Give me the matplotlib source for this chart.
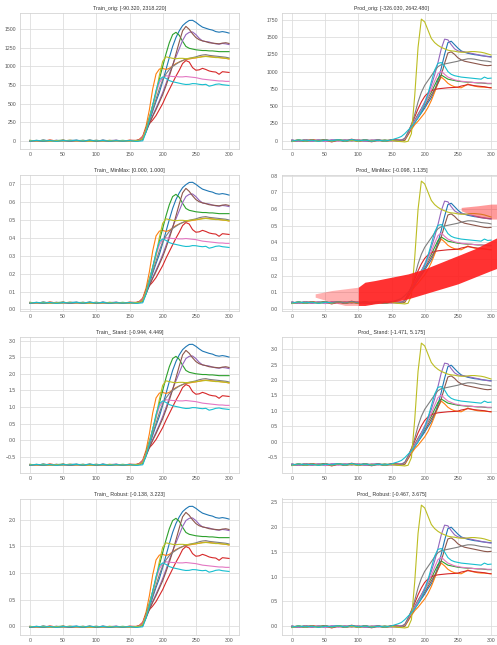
import numpy as np
import matplotlib
matplotlib.use("Agg")
import matplotlib.pyplot as plt
from matplotlib.ticker import MultipleLocator

# ---------------- data ----------------
t = [0, 10, 20, 30, 40, 50, 60, 70, 80, 90, 100, 110, 120, 130, 140, 150, 160,
     165, 170, 175, 180, 185, 190, 195, 200, 205, 210, 215, 220, 225, 230, 235,
     240, 245, 250, 255, 260, 265, 270, 275, 280, 285, 290, 295, 300]

train_blue = [5, -8, 10, -3, 6, -10, 4, 8, -5, 3, -6, 9, -2, 5, -7, 4, 2,
              5, 30, 130, 260, 400, 530, 650, 800, 960, 1120, 1270, 1390, 1480, 1550, 1590,
              1620, 1622, 1595, 1560, 1530, 1515, 1500, 1490, 1470, 1462, 1470, 1462, 1450]
train_orange = [-3, 4, -6, 8, -2, 5, -8, 3, -4, 6, -9, 2, -5, 4, -3, 6, -2,
                20, 60, 200, 420, 700, 900, 965, 975, 960, 975, 1010, 1040, 1060, 1080, 1095,
                1100, 1110, 1115, 1125, 1135, 1140, 1135, 1130, 1125, 1120, 1115, 1110, 1100]
train_green = [2, -5, 7, -4, 3, 8, -6, 2, 5, -3, 7, -5, 4, -2, 6, -4, 3,
               10, 40, 170, 320, 480, 650, 830, 1000, 1170, 1320, 1430, 1460, 1420, 1340, 1270,
               1245, 1235, 1225, 1220, 1215, 1215, 1210, 1210, 1205, 1200, 1200, 1200, 1200]
train_red = [-6, 3, -4, 9, -2, 4, -7, 5, -3, 8, -4, 2, -6, 3, -5, 7, 5,
             15, 60, 170, 230, 280, 340, 420, 500, 600, 690, 780, 870, 950, 1040, 1080,
             1060, 985, 950, 955, 975, 960, 940, 930, 925, 895, 930, 925, 920]
train_purple = [4, -6, 2, -8, 5, -3, 7, -4, 6, -2, 4, -7, 3, 8, -5, 2, -3,
                5, 25, 130, 240, 340, 440, 540, 650, 770, 900, 1020, 1130, 1240, 1350, 1430,
                1460, 1465, 1430, 1380, 1345, 1335, 1330, 1315, 1305, 1300, 1310, 1305, 1295]
train_brown = [-2, 5, -7, 3, -4, 6, -2, 4, -8, 5, -3, 6, -4, 2, -6, 3, -2,
               3, 20, 120, 230, 330, 420, 520, 620, 740, 870, 1010, 1170, 1330, 1480, 1540,
               1500, 1440, 1390, 1360, 1345, 1335, 1320, 1315, 1310, 1305, 1315, 1320, 1310]
train_pink = [3, -4, 6, -2, 5, -7, 3, -5, 4, -3, 6, -2, 5, -4, 3, -6, 2,
              10, 50, 160, 300, 470, 640, 780, 850, 875, 870, 865, 865, 860, 860, 865,
              860, 855, 850, 840, 830, 825, 820, 815, 810, 805, 805, 800, 800]
train_gray = [-4, 2, -5, 4, -3, 7, -5, 2, -6, 4, -2, 5, -3, 6, -4, 2, -3,
              5, 30, 150, 280, 420, 560, 700, 820, 900, 960, 1000, 1030, 1060, 1080, 1100,
              1110, 1120, 1130, 1145, 1155, 1160, 1150, 1145, 1140, 1135, 1130, 1125, 1115]
train_olive = [6, -3, 5, -6, 2, -4, 8, -3, 5, -7, 3, -4, 6, -3, 2, -5, 4,
               5, 30, 150, 290, 470, 650, 880, 1070, 1130, 1120, 1110, 1105, 1110, 1110, 1105,
               1110, 1115, 1120, 1125, 1130, 1135, 1130, 1125, 1120, 1120, 1115, 1110, 1105]
train_cyan = [-5, 6, -3, 4, -8, 3, -2, 7, -4, 10, -3, 5, -6, 2, -4, 3, -8,
              -5, 0, 120, 280, 480, 680, 820, 860, 840, 810, 795, 785, 775, 765, 758,
              760, 770, 768, 760, 755, 760, 735, 745, 760, 765, 755, 750, 745]

prod_blue = [8, -12, 15, -6, 10, -15, 6, 12, -8, 5, -10, 14, -4, 8, -12, 6, 4,
             5, 20, 100, 180, 260, 330, 400, 470, 550, 620, 720, 870, 1050, 1250, 1420,
             1440, 1390, 1340, 1300, 1280, 1265, 1255, 1245, 1240, 1230, 1225, 1220, 1215]
prod_orange = [-6, 8, -10, 12, -4, 8, -12, 5, -6, 10, -14, 4, -8, 6, -5, 10, -4,
               -5, 0, 80, 160, 230, 280, 340, 400, 480, 580, 700, 830, 920, 880, 830,
               800, 780, 770, 765, 790, 820, 800, 790, 780, 775, 775, 770, 765]
prod_green = [4, -8, 12, -6, 5, 12, -10, 4, 8, -5, 12, -8, 6, -4, 10, -6, 5,
              0, 10, 100, 190, 290, 380, 460, 540, 620, 700, 800, 900, 950, 920, 890,
              880, 870, 860, 855, 850, 845, 845, 840, 835, 835, 830, 825, 825]
prod_red = [-10, 5, -6, 14, -4, 6, -20, 8, -5, 20, -6, 4, -18, 5, -8, 12, 8,
            5, 20, 120, 230, 340, 460, 560, 640, 690, 720, 740, 750, 755, 760, 765,
            768, 770, 775, 790, 800, 810, 805, 795, 790, 785, 780, 770, 765]
prod_purple = [6, -10, 4, -12, 8, -5, 12, -6, 10, -4, 6, -12, 5, 12, -8, 4, -5,
               10, 30, 110, 200, 290, 370, 460, 560, 670, 800, 950, 1130, 1330, 1470, 1460,
               1390, 1330, 1300, 1290, 1285, 1275, 1265, 1255, 1245, 1235, 1225, 1215, 1210]
prod_brown = [-4, 8, -12, 5, -6, 10, -4, 6, -12, 8, -5, 10, -6, 4, -10, 5, -4,
              0, 20, 100, 180, 260, 340, 420, 500, 580, 660, 740, 830, 950, 1120, 1270,
              1285, 1250, 1200, 1170, 1150, 1140, 1130, 1120, 1110, 1100, 1090, 1085, 1090]
prod_pink = [5, -6, 10, -4, 8, -12, 5, -8, 6, -5, 10, -4, 8, -6, 5, -10, 4,
             5, 20, 110, 190, 270, 350, 440, 530, 630, 740, 860, 970, 1010, 960, 920,
             900, 880, 870, 860, 855, 850, 845, 840, 840, 835, 835, 830, 830]
prod_gray = [-6, 4, -8, 6, -5, 12, -8, 4, -10, 6, -4, 8, -5, 10, -6, 4, -5,
             5, 30, 120, 230, 380, 560, 700, 800, 870, 940, 1010, 1070, 1100, 1110, 1120,
             1130, 1140, 1150, 1165, 1175, 1185, 1185, 1180, 1170, 1160, 1155, 1150, 1140]
prod_olive = [-15, 12, -10, 8, -12, 5, -8, 10, -6, 4, -10, 7, -5, 3, -8, 2, -12,
              -15, -20, -10, 100, 650, 1350, 1760, 1720, 1600, 1480, 1420, 1380, 1350, 1330, 1310,
              1300, 1295, 1285, 1280, 1280, 1285, 1290, 1290, 1285, 1280, 1270, 1255, 1240]
prod_cyan = [-8, 10, -5, 6, -12, 5, -4, 12, -6, 15, -5, 8, -10, 4, -6, 10, 40,
             60, 100, 150, 200, 260, 330, 420, 530, 680, 850, 1020, 1120, 1130, 1080, 1000,
             960, 940, 930, 920, 915, 910, 905, 900, 895, 890, 920, 900, 905]

train_series = [train_blue, train_orange, train_green, train_red, train_purple,
                train_brown, train_pink, train_gray, train_olive, train_cyan]
prod_series = [prod_blue, prod_orange, prod_green, prod_red, prod_purple,
               prod_brown, prod_pink, prod_gray, prod_olive, prod_cyan]

# red point cloud in the Prod MinMax panel (MinMax units)
cloud_x = [100, 110, 125, 150, 175, 200, 225, 250, 275, 300, 320]
cloud_lo = [0.02, 0.02, 0.03, 0.04, 0.06, 0.09, 0.12, 0.15, 0.19, 0.23, 0.26]
cloud_hi = [0.13, 0.16, 0.17, 0.19, 0.21, 0.24, 0.28, 0.32, 0.36, 0.41, 0.45]
sparse_x = [35, 60, 80, 100]
sparse_lo = [0.07, 0.04, 0.02, 0.02]
sparse_hi = [0.09, 0.11, 0.12, 0.13]
top_x = [255, 280, 300, 320]
top_lo = [0.59, 0.55, 0.54, 0.54]
top_hi = [0.61, 0.62, 0.63, 0.63]

# scaler parameters (fitted on train)
mm_min, mm_max = -90.32, 2318.22
st_mean, st_std = 331.3, 446.6
rb_center, rb_scale = 8.6, 716.6

titles = [["Train_orig: [-90.320, 2318.220]", "Prod_orig: [-326.030, 2642.480]"],
          ["Train_ MinMax: [0.000, 1.000]", "Prod_ MinMax: [-0.098, 1.135]"],
          ["Train_ Stand: [-0.944, 4.449]", "Prod_ Stand: [-1.471, 5.175]"],
          ["Train_ Robust: [-0.138, 3.223]", "Prod_ Robust: [-0.467, 3.675]"]]
train_ylim = (-104, 1727)
prod_ylim = (-115, 1856)
ysteps = [[250, 250], [0.1, 0.1], [0.5, 0.5], [0.5, 0.5]]

transforms = [lambda v: v,
              lambda v: (v - mm_min) / (mm_max - mm_min),
              lambda v: (v - st_mean) / st_std,
              lambda v: (v - rb_center) / rb_scale]

colors = plt.get_cmap("tab10").colors

# ---------------- figure ----------------
W, H = 497, 645
fig = plt.figure(figsize=(W / 100, H / 100), dpi=100)
fig.patch.set_facecolor("white")

plt.rcParams["font.family"] = ["Liberation Sans", "DejaVu Sans"]

col_left = [20, 282]
ax_w = 219
row_top = [12.5, 174.5, 336.5, 498.5]
ax_h = 136

for r in range(4):
    for c in range(2):
        l = col_left[c] / W
        b = 1 - (row_top[r] + ax_h) / H
        ax = fig.add_axes([l, b, ax_w / W, ax_h / H])
        ax.set_facecolor("white")
        f = transforms[r]
        series = train_series if c == 0 else prod_series
        for i, s in enumerate(series):
            ax.plot(t, f(np.array(s, dtype=float)), color=colors[i], lw=0.8, zorder=2)
        if r == 1 and c == 1:
            ax.fill_between(sparse_x, sparse_lo, sparse_hi, color="#ff2020",
                            alpha=0.35, lw=0, zorder=3)
            ax.fill_between(cloud_x, cloud_lo, cloud_hi, color="#ff2020",
                            alpha=0.92, lw=0, zorder=3)
            ax.fill_between(top_x, top_lo, top_hi, color="#ff2020",
                            alpha=0.45, lw=0, zorder=3)
        yl = train_ylim if c == 0 else prod_ylim
        ax.set_ylim(f(np.array(yl[0], dtype=float)), f(np.array(yl[1], dtype=float)))
        ax.set_xlim(-15, 315)
        ax.xaxis.set_major_locator(MultipleLocator(50))
        ax.yaxis.set_major_locator(MultipleLocator(ysteps[r][c]))
        ax.grid(True, color="#dedede", lw=0.6, zorder=0)
        ax.set_axisbelow(True)
        for sp in ax.spines.values():
            sp.set_color("#d4d4d4")
            sp.set_linewidth(0.6)
        ax.tick_params(length=0, labelsize=3.7, colors="#555555", pad=2.8)
        ax.set_title(titles[r][c], fontsize=3.8, color="#333333", pad=1.6)

fig.savefig("out.png", dpi=100)
